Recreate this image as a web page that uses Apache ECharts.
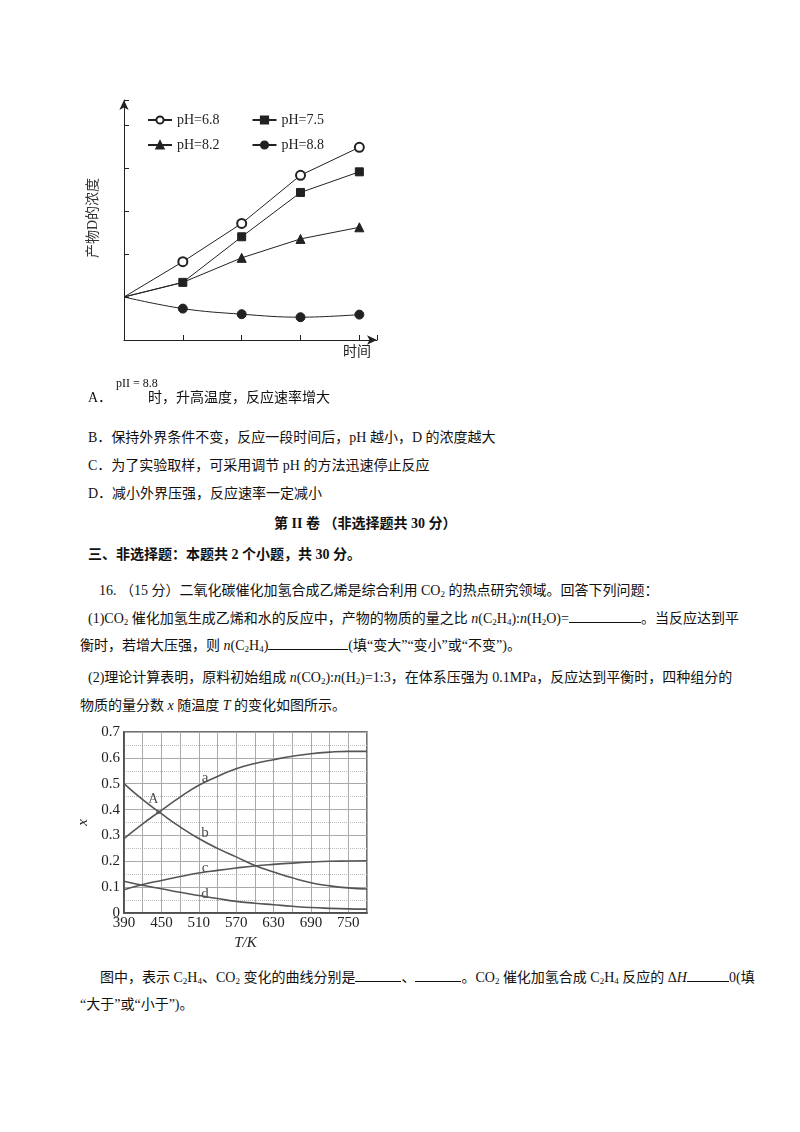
<!DOCTYPE html>
<html lang="zh-CN">
<head>
<meta charset="UTF-8">
<title>chart</title>
<script src="https://cdn.jsdelivr.net/npm/echarts@6/dist/echarts.min.js"></script>
<style>
    body{margin:0;background:#fff;width:800px;height:1132px;position:relative;overflow:hidden;
        font-family:"Liberation Serif","Noto Sans CJK SC",serif;color:#111;font-size:14px;}
    .t{position:absolute;white-space:nowrap;line-height:16px;}
    .b{font-weight:bold;}
    .u{display:inline-block;border-bottom:1px solid #111;height:12px;vertical-align:baseline;}
    sub{font-size:9px;vertical-align:-2px;line-height:0;}
    #c1{position:absolute;left:60px;top:90px;width:340px;height:290px;}
    #c2{position:absolute;left:60px;top:720px;width:340px;height:240px;}
</style>
</head>
<body>
<div id="c1"></div>
<div id="c2"></div>

<div class="t" style="left:116px;top:375px;font-size:12px">pII = 8.8</div>
<div class="t" style="left:88px;top:390px">A．</div>
<div class="t" style="left:148px;top:390px">时，升高温度，反应速率增大</div>
<div class="t" style="left:88px;top:430px">B．保持外界条件不变，反应一段时间后，pH 越小，D 的浓度越大</div>
<div class="t" style="left:88px;top:458px">C．为了实验取样，可采用调节 pH 的方法迅速停止反应</div>
<div class="t" style="left:88px;top:486px">D．减小外界压强，反应速率一定减小</div>
<div class="t b" style="left:274px;top:516px">第 II 卷 （非选择题共 30 分）</div>
<div class="t b" style="left:88px;top:547px">三、非选择题：本题共 2 个小题，共 30 分。</div>
<div class="t" style="left:99px;top:583px">16. （15 分）二氧化碳催化加氢合成乙烯是综合利用 CO<sub>2</sub> 的热点研究领域。回答下列问题：</div>
<div class="t" style="left:88px;top:610px">(1)CO<sub>2</sub> 催化加氢生成乙烯和水的反应中，产物的物质的量之比 <i>n</i>(C<sub>2</sub>H<sub>4</sub>):<i>n</i>(H<sub>2</sub>O)=<span class="u" style="width:72px"></span>。当反应达到平</div>
<div class="t" style="left:80px;top:637px">衡时，若增大压强，则 <i>n</i>(C<sub>2</sub>H<sub>4</sub>)<span class="u" style="width:80px"></span>(填“变大”“变小”或“不变”)。</div>
<div class="t" style="left:88px;top:670px">(2)理论计算表明，原料初始组成 <i>n</i>(CO<sub>2</sub>):<i>n</i>(H<sub>2</sub>)=1:3，在体系压强为 0.1MPa，反应达到平衡时，四种组分的</div>
<div class="t" style="left:80px;top:698px">物质的量分数 <i>x</i> 随温度 <i>T</i> 的变化如图所示。</div>
<div class="t" style="left:100px;top:969px">图中，表示 C<sub>2</sub>H<sub>4</sub>、CO<sub>2</sub> 变化的曲线分别是<span class="u" style="width:46px"></span>、<span class="u" style="width:46px"></span>。CO<sub>2</sub> 催化加氢合成 C<sub>2</sub>H<sub>4</sub> 反应的 Δ<i>H</i><span class="u" style="width:42px"></span>0(填</div>
<div class="t" style="left:80px;top:997px">“大于”或“小于”)。</div>

<script>
    // 图1：产物D的浓度随时间变化
    var timeX = [0, 1, 2, 3, 4];
    var ph68 = [1, 1.82, 2.71, 3.83, 4.48];
    var ph75 = [1, 1.34, 2.40, 3.43, 3.91];
    var ph82 = [1, 1.34, 1.91, 2.35, 2.62];
    var ph88 = [1, 0.73, 0.60, 0.53, 0.59];

    // 图2：物质的量分数 x 随温度 T 变化
    var tempT = [390, 420, 450, 480, 510, 540, 570, 600, 630, 660, 690, 720, 750, 780];
    var curveA = [0.288, 0.345, 0.397, 0.448, 0.494, 0.528, 0.558, 0.578, 0.593, 0.606, 0.616, 0.622, 0.625, 0.625];
    var curveB = [0.500, 0.438, 0.384, 0.333, 0.288, 0.250, 0.217, 0.184, 0.159, 0.136, 0.117, 0.105, 0.097, 0.093];
    var curveC = [0.090, 0.110, 0.126, 0.141, 0.155, 0.165, 0.174, 0.182, 0.188, 0.193, 0.197, 0.200, 0.201, 0.202];
    var curveD = [0.123, 0.107, 0.094, 0.080, 0.068, 0.056, 0.045, 0.038, 0.032, 0.026, 0.021, 0.018, 0.016, 0.015];

    function pairs(xs, ys) {
        return xs.map(function (v, i) { return [v, ys[i]]; });
    }

    var serif = '"Liberation Serif","Noto Sans CJK SC",serif';
    var dark = '#222';

    var chart1 = echarts.init(document.getElementById('c1'));
    function s1(name, data, symbol, size, smooth) {
        return {
            name: name, type: 'line', data: pairs(timeX, data), symbol: symbol, symbolSize: size,
            smooth: smooth || false, showSymbol: true,
            lineStyle: {color: dark, width: 1}, itemStyle: {color: dark, borderColor: dark, borderWidth: 1},
            symbolKeepAspect: true
        };
    }
    var ser1 = [
        s1('pH=6.8', ph68, 'emptyCircle', 9),
        s1('pH=7.5', ph75, 'rect', 8),
        s1('pH=8.2', ph82, 'triangle', 9),
        s1('pH=8.8', ph88, 'circle', 9, 0.4)
    ];
    [0, 1, 2, 3].forEach(function (i) {
        ser1[i].data[0] = {value: [0, 1], symbol: 'none'};
    });
    ser1[2].data[1] = {value: [1, ph82[1]], symbol: 'none'};
    chart1.setOption({
        animation: false,
        textStyle: {fontFamily: serif},
        grid: {left: 64, top: 10, width: 253, height: 240},
        legend: [
            {data: ['pH=6.8', 'pH=7.5'], left: 82, top: 18, itemWidth: 24, itemHeight: 9, itemGap: 32,
                textStyle: {fontSize: 14, color: dark, fontFamily: serif}},
            {data: ['pH=8.2', 'pH=8.8'], left: 82, top: 43, itemWidth: 24, itemHeight: 9, itemGap: 32,
                textStyle: {fontSize: 14, color: dark, fontFamily: serif}}
        ],
        xAxis: {
            type: 'value', min: 0, max: 4.3, interval: 1,
            axisLine: {lineStyle: {color: dark}, symbol: ['none', 'arrow'], symbolSize: [7, 10]},
            axisTick: {inside: true, length: 5, lineStyle: {color: dark}},
            axisLabel: {show: false}, splitLine: {show: false}
        },
        yAxis: {
            type: 'value', min: 0, max: 5.58, interval: 1,
            axisLine: {show: true, lineStyle: {color: dark}, symbol: ['none', 'arrow'], symbolSize: [7, 10]},
            axisTick: {show: true, inside: true, length: 5, lineStyle: {color: dark}},
            axisLabel: {show: false}, splitLine: {show: false}
        },
        graphic: [
            {type: 'text', left: 283, top: 255, style: {text: '时间', fontSize: 14, fill: dark, fontFamily: serif}},
            {type: 'text', x: 33, y: 128, rotation: Math.PI / 2, style: {text: '产物D的浓度', fontSize: 14, fill: '#333', fontFamily: serif, align: 'center', verticalAlign: 'middle'}}
        ],
        series: ser1
    });

    var chart2 = echarts.init(document.getElementById('c2'));
    function s2(name, data) {
        return {
            name: name, type: 'line', data: pairs(tempT, data), smooth: true, symbol: 'none',
            lineStyle: {color: '#555', width: 1.6}
        };
    }
    var ser2 = [s2('a', curveA), s2('b', curveB), s2('c', curveC), s2('d', curveD)];
    ser2.push({type: 'scatter', data: [[445, 0.39]], symbol: 'circle', symbolSize: 4, itemStyle: {color: '#444'},
        label: {show: true, formatter: 'A', position: [-8, -18], fontSize: 14, color: dark, fontFamily: serif}});
    var curveLabels = [['a', 520, 0.52], ['b', 520, 0.31], ['c', 520, 0.175], ['d', 520, 0.075]];
    ser2.push({type: 'scatter', symbolSize: 0, data: curveLabels.map(function (l) { return {value: [l[1], l[2]], name: l[0]}; }),
        label: {show: true, formatter: '{b}', position: 'inside', fontSize: 15, color: dark, fontFamily: serif}});
    chart2.setOption({
        animation: false,
        textStyle: {fontFamily: serif},
        grid: {left: 64, top: 12, width: 243, height: 181},
        xAxis: {
            type: 'value', min: 390, max: 780, interval: 30,
            axisLine: {lineStyle: {color: '#444', width: 1.5}},
            axisTick: {show: false},
            axisLabel: {fontSize: 15, color: dark, margin: 3, fontFamily: serif,
                formatter: function (v) { return (v - 390) % 60 === 0 && v <= 750 ? v : ''; }},
            splitLine: {show: true, lineStyle: {color: '#aaa', width: 1}},
            name: 'T/K', nameLocation: 'middle', nameGap: 20,
            nameTextStyle: {fontSize: 15, color: dark, fontStyle: 'italic', fontFamily: serif}
        },
        yAxis: {
            type: 'value', min: 0, max: 0.7, interval: 0.1,
            axisLine: {show: true, lineStyle: {color: '#444', width: 1.5}},
            axisTick: {show: false},
            axisLabel: {fontSize: 15, color: dark, margin: 4, fontFamily: serif,
                formatter: function (v) { return v === 0 ? '0' : v.toFixed(1); }},
            splitLine: {show: true, lineStyle: {color: '#aaa', width: 1}},
            minorTick: {show: false, splitNumber: 2},
            minorSplitLine: {show: true, lineStyle: {color: '#bbb', type: 'dotted'}},
            name: 'x', nameLocation: 'middle', nameGap: 28, nameRotate: 90,
            nameTextStyle: {fontSize: 15, color: dark, fontStyle: 'italic', fontFamily: serif}
        },
        graphic: [
            {type: 'rect', shape: {x: 64, y: 12, width: 243, height: 181}, style: {fill: 'none', stroke: '#444', lineWidth: 1.5}}
        ],
        series: ser2
    });
</script>
</body>
</html>
